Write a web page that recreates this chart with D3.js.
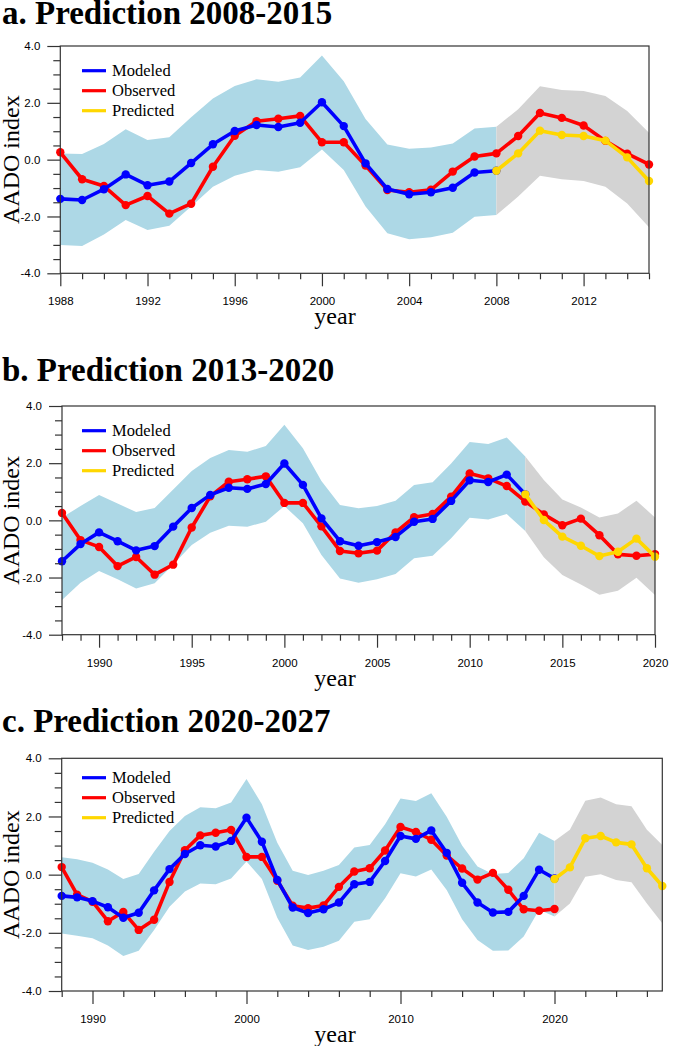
<!DOCTYPE html>
<html>
<head>
<meta charset="utf-8">
<script src="https://cdn.jsdelivr.net/npm/d3@7"></script>
<style>
  body { margin: 0; background: #fff; }
  svg { display: block; }
  .tick text { font-family: "Liberation Sans", Arial, sans-serif; font-size: 11.5px; fill: #000; }
  .axis path, .axis line { stroke: #333; stroke-width: 1.2; }
</style>
</head>
<body>
<svg id="chart" width="685" height="1046"></svg>
<script>
// observed AADO index, 1988-2020
var obsStart = 1988;
var observed = [0.26, -0.69, -0.93, -1.60, -1.28, -1.90, -1.55, -0.25, 0.84, 1.35,
  1.44, 1.54, 0.61, 0.61, -0.21, -1.07, -1.15, -1.06, -0.42, 0.11,
  0.22, 0.83, 1.64, 1.47, 1.20, 0.66, 0.21, -0.17, 0.06, -0.52,
  -1.19, -1.24, -1.18];

// a. 2008-2015
var modeledA = [-1.38, -1.42, -1.04, -0.52, -0.90, -0.77, -0.12, 0.54, 1.01, 1.22,
  1.15, 1.30, 2.02, 1.18, -0.13, -1.03, -1.22, -1.15, -0.99, -0.45, -0.39];
var modeledA_hi = [0.22, 0.20, 0.55, 1.07, 0.69, 0.79, 1.49, 2.15, 2.59, 2.83,
  2.74, 2.89, 3.67, 2.76, 1.43, 0.53, 0.38, 0.43, 0.57, 1.10, 1.16];
var modeledA_lo = [-3.00, -3.04, -2.63, -2.12, -2.48, -2.33, -1.65, -0.95, -0.57, -0.36,
  -0.43, -0.27, 0.36, -0.36, -1.65, -2.59, -2.80, -2.73, -2.57, -2.01, -1.95];
var predictedA = [-0.39, 0.22, 1.02, 0.87, 0.83, 0.67, 0.08, -0.75];
var predictedA_hi = [1.16, 1.77, 2.58, 2.45, 2.42, 2.24, 1.71, 0.95];
var predictedA_lo = [-1.95, -1.30, -0.57, -0.69, -0.75, -0.95, -1.54, -2.38];

// b. 2013-2020
var modeledB = [-1.43, -0.83, -0.42, -0.73, -1.05, -0.90, -0.22, 0.43, 0.89, 1.14,
  1.10, 1.27, 1.99, 1.24, 0.07, -0.73, -0.89, -0.76, -0.58, -0.05,
  0.05, 0.68, 1.40, 1.34, 1.60, 0.91];
var modeledB_hi = [0.10, 0.50, 0.89, 0.59, 0.29, 0.43, 1.08, 1.73, 2.18, 2.46,
  2.40, 2.60, 3.34, 2.52, 1.38, 0.54, 0.42, 0.50, 0.69, 1.24,
  1.33, 1.99, 2.74, 2.67, 2.90, 2.23];
var modeledB_lo = [-2.79, -2.18, -1.77, -2.06, -2.38, -2.20, -1.54, -0.86, -0.43, -0.19,
  -0.22, -0.05, 0.50, -0.10, -1.21, -2.03, -2.18, -2.06, -1.88, -1.33,
  -1.24, -0.63, 0.09, 0.03, 0.22, -0.37];
var predictedB = [0.91, 0.01, -0.57, -0.89, -1.25, -1.10, -0.64, -1.27];
var predictedB_hi = [2.23, 1.41, 0.73, 0.45, 0.10, 0.24, 0.69, 0.10];
var predictedB_lo = [-0.37, -1.29, -1.91, -2.24, -2.60, -2.46, -2.01, -2.61];

// c. 2020-2027
var modeledC = [-0.73, -0.78, -0.91, -1.12, -1.48, -1.31, -0.54, 0.19, 0.71, 1.01,
  0.97, 1.16, 1.96, 1.13, -0.18, -1.13, -1.32, -1.19, -0.96, -0.33,
  -0.25, 0.47, 1.33, 1.23, 1.52, 0.75, -0.28, -0.96, -1.30, -1.28,
  -0.73, 0.17, -0.13];
var modeledC_hi = [0.60, 0.53, 0.41, 0.18, -0.15, 0.02, 0.79, 1.50, 2.02, 2.32,
  2.28, 2.48, 3.29, 2.42, 1.10, 0.13, -0.01, 0.13, 0.33, 0.93,
  1.02, 1.73, 2.62, 2.53, 2.80, 1.99, 1.00, 0.28, 0.02, 0.06,
  0.56, 1.44, 1.16];
var modeledC_lo = [-2.02, -2.10, -2.19, -2.44, -2.80, -2.62, -1.90, -1.10, -0.58, -0.30,
  -0.33, -0.13, 0.45, -0.15, -1.48, -2.44, -2.59, -2.48, -2.27, -1.62,
  -1.53, -0.81, 0.05, -0.06, 0.18, -0.53, -1.53, -2.25, -2.62, -2.61,
  -2.13, -1.21, -1.44];
var predictedC = [-0.15, 0.25, 1.25, 1.33, 1.11, 1.04, 0.22, -0.39];
var predictedC_hi = [1.16, 1.54, 2.54, 2.65, 2.42, 2.35, 1.54, 1.02];
var predictedC_lo = [-1.44, -0.99, -0.07, 0.01, -0.18, -0.26, -0.99, -1.67];

var yTicks = [-4, -2, 0, 2, 4];
var yMinor = [-3.5, -3, -2.5, -1.5, -1, -0.5, 0.5, 1, 1.5, 2.5, 3, 3.5];

var panels = [
  { title: 'a. Prediction 2008-2015', titleY: 24, left: 60.3, right: 649, top: 46, bottom: 273.3,
    end: 2015, split: 2008, major: [1988, 1992, 1996, 2000, 2004, 2008, 2012], minorStep: 1,
    modeled: modeledA, hi: modeledA_hi, lo: modeledA_lo,
    pred: predictedA, pHi: predictedA_hi, pLo: predictedA_lo, legendDy: 24.7 },
  { title: 'b. Prediction 2013-2020', titleY: 381, left: 62, right: 655, top: 406, bottom: 634.7,
    end: 2020, split: 2013, major: [1990, 1995, 2000, 2005, 2010, 2015, 2020], minorStep: 1,
    modeled: modeledB, hi: modeledB_hi, lo: modeledB_lo,
    pred: predictedB, pHi: predictedB_hi, pLo: predictedB_lo, legendDy: 24.7 },
  { title: 'c. Prediction 2020-2027', titleY: 732, left: 61.7, right: 662.3, top: 758.3, bottom: 991,
    end: 2027, split: 2020, major: [1990, 2000, 2010, 2020], minorStep: 2,
    modeled: modeledC, hi: modeledC_hi, lo: modeledC_lo,
    pred: predictedC, pHi: predictedC_hi, pLo: predictedC_lo, legendDy: 19.4 }
];

var svg = d3.select('#chart');
var serif = '"Liberation Serif", "Times New Roman", serif';

panels.forEach(function (p) {
  var x = d3.scaleLinear().domain([obsStart, p.end]).range([p.left, p.right]);
  var y = d3.scaleLinear().domain([-4, 4]).range([p.bottom, p.top]);
  var g = svg.append('g');

  // title
  g.append('text').attr('x', 2).attr('y', p.titleY)
    .attr('font-family', serif).attr('font-weight', 'bold').attr('font-size', 33)
    .text(p.title);

  // spread bands
  var band = d3.area()
    .x(function (d) { return x(d.yr); })
    .y0(function (d) { return y(d.lo); })
    .y1(function (d) { return y(d.hi); });
  var mBand = p.hi.map(function (v, i) { return { yr: obsStart + i, hi: v, lo: p.lo[i] }; });
  var pBand = p.pHi.map(function (v, i) { return { yr: p.split + i, hi: v, lo: p.pLo[i] }; });
  g.append('path').datum(mBand).attr('d', band).attr('fill', '#add8e6');
  g.append('path').datum(pBand).attr('d', band).attr('fill', '#d3d3d3');

  // series
  var line = d3.line().x(function (d) { return x(d.yr); }).y(function (d) { return y(d.v); });
  function series(vals, start, color) {
    var pts = vals.map(function (v, i) { return { yr: start + i, v: v }; })
      .filter(function (d) { return d.yr <= p.end; });
    g.append('path').datum(pts).attr('d', line)
      .attr('fill', 'none').attr('stroke', color).attr('stroke-width', 3.6)
      .attr('stroke-linejoin', 'round');
    g.selectAll(null).data(pts).enter().append('circle')
      .attr('cx', function (d) { return x(d.yr); })
      .attr('cy', function (d) { return y(d.v); })
      .attr('r', 4.2).attr('fill', color);
  }
  series(observed, obsStart, '#ff0000');
  series(p.modeled, obsStart, '#0000ff');
  series(p.pred, p.split, '#ffd700');

  // axes
  var minorX = [];
  for (var yr = obsStart; yr <= p.end; yr += p.minorStep) {
    if (p.major.indexOf(yr) < 0) minorX.push(yr);
  }
  g.append('g').attr('class', 'axis').attr('transform', 'translate(0,' + p.bottom + ')')
    .call(d3.axisBottom(x).tickValues(minorX).tickSize(6).tickSizeOuter(0).tickFormat(''))
    .select('.domain').remove();
  g.append('g').attr('class', 'axis').attr('transform', 'translate(0,' + p.bottom + ')')
    .call(d3.axisBottom(x).tickValues(p.major).tickSize(13).tickSizeOuter(0).tickPadding(11)
      .tickFormat(function (d) { return String(d); }))
    .select('.domain').remove();
  g.append('g').attr('class', 'axis').attr('transform', 'translate(' + p.left + ',0)')
    .call(d3.axisLeft(y).tickValues(yMinor).tickSize(7).tickSizeOuter(0).tickFormat(''))
    .select('.domain').remove();
  g.append('g').attr('class', 'axis').attr('transform', 'translate(' + p.left + ',0)')
    .call(d3.axisLeft(y).tickValues(yTicks).tickSize(13).tickSizeOuter(0).tickPadding(7)
      .tickFormat(function (d) { return d.toFixed(1); }))
    .select('.domain').remove();

  // frame
  g.append('rect').attr('x', p.left).attr('y', p.top)
    .attr('width', p.right - p.left).attr('height', p.bottom - p.top)
    .attr('fill', 'none').attr('stroke', '#333').attr('stroke-width', 1.2);

  // axis titles
  g.append('text').attr('x', 335).attr('y', p.bottom + 51).attr('text-anchor', 'middle')
    .attr('font-family', serif).attr('font-size', 24).text('year');
  g.append('text')
    .attr('transform', 'translate(19,' + (p.top + p.bottom) / 2 + ') rotate(-90)')
    .attr('text-anchor', 'middle').attr('font-family', serif).attr('font-size', 24)
    .text('AADO index');

  // legend
  var legend = [['Modeled', '#0000ff'], ['Observed', '#ff0000'], ['Predicted', '#ffd700']];
  legend.forEach(function (it, i) {
    var ly = p.top + p.legendDy + i * 20;
    g.append('line').attr('x1', 82).attr('x2', 106).attr('y1', ly).attr('y2', ly)
      .attr('stroke', it[1]).attr('stroke-width', 3.2);
    g.append('text').attr('x', 112).attr('y', ly + 5.5)
      .attr('font-family', serif).attr('font-size', 16.5).text(it[0]);
  });
});
</script>
</body>
</html>
